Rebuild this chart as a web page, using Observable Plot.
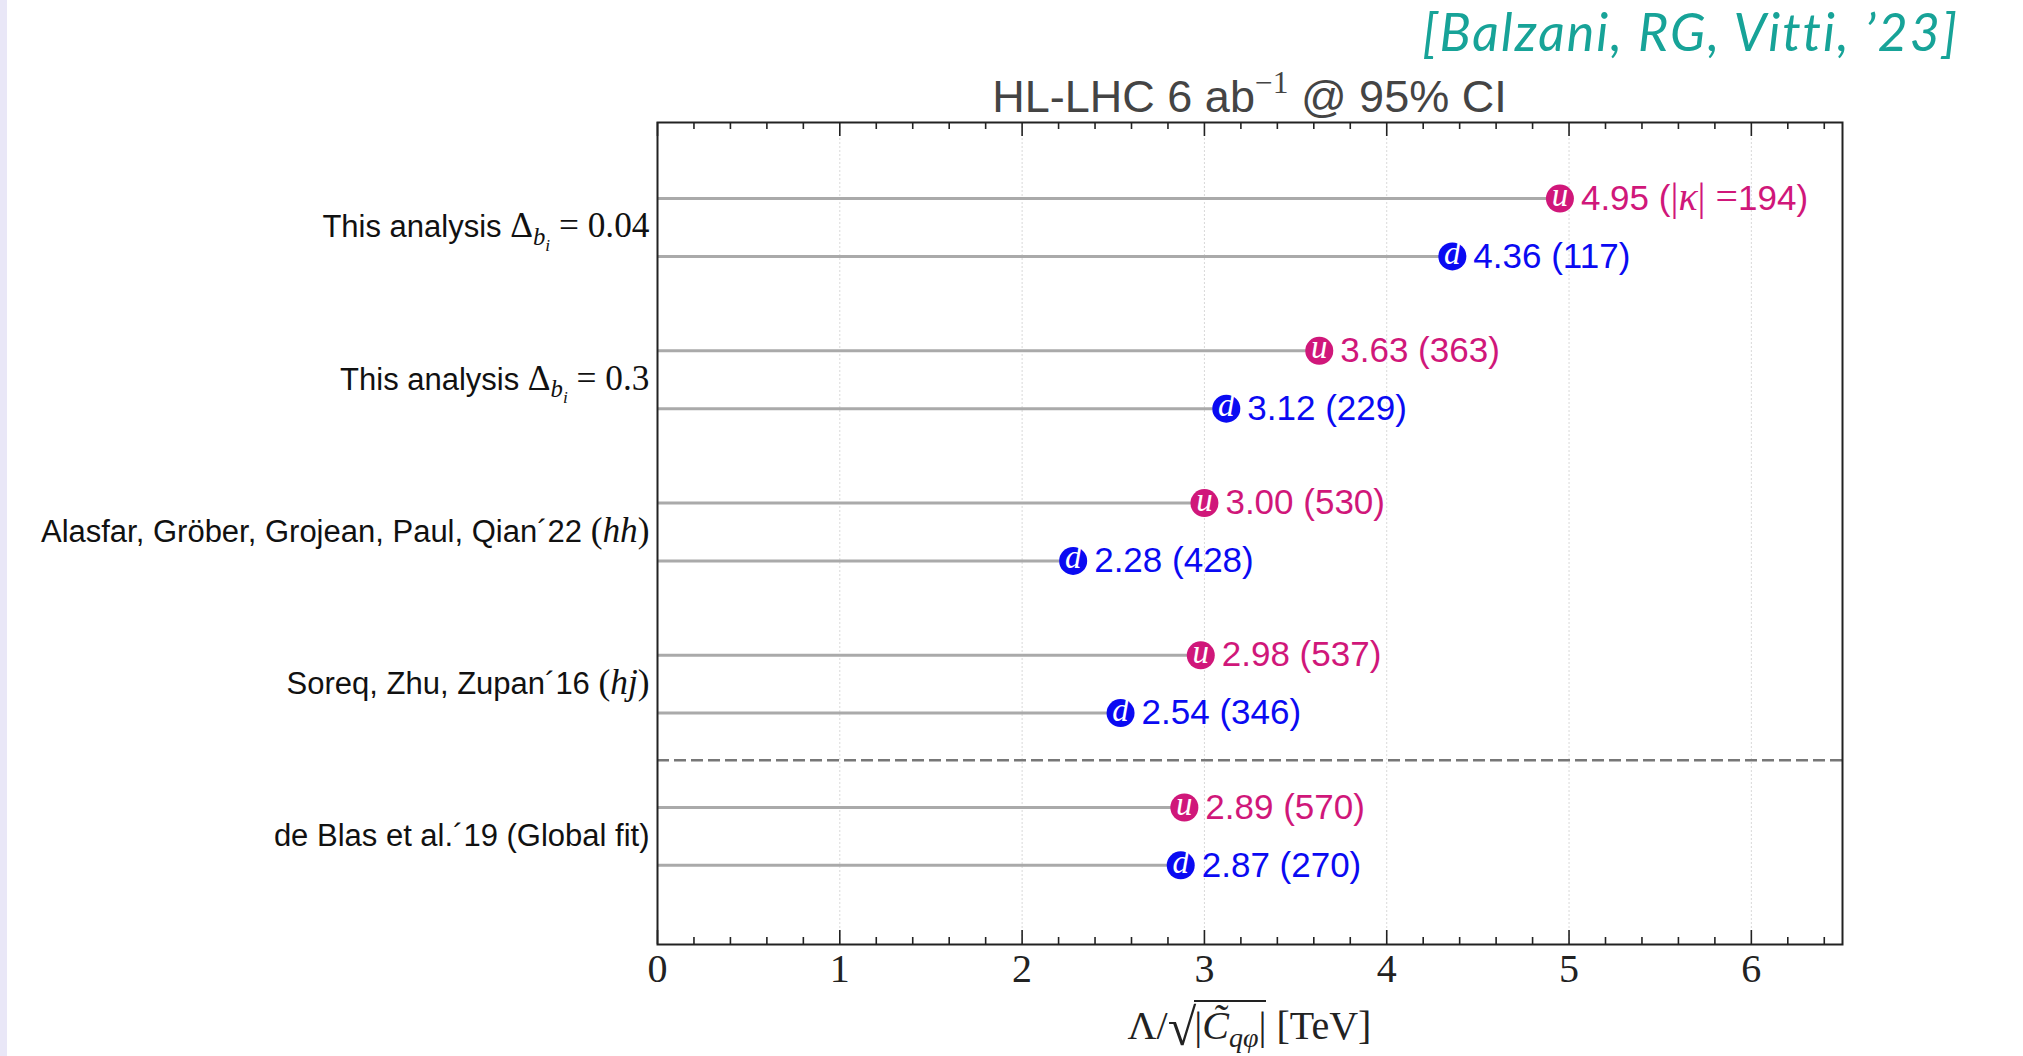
<!DOCTYPE html>
<html>
<head>
<meta charset="utf-8">
<script src="https://cdn.jsdelivr.net/npm/d3@7"></script>
<script src="https://cdn.jsdelivr.net/npm/@observablehq/plot@0.6"></script>
<style>
  html, body { margin: 0; padding: 0; background: #fff; overflow: hidden; }
  body { width: 2023px; height: 1056px; position: relative; font-family: "Liberation Sans", Arial, sans-serif; }
  #edge { position: absolute; left: 0; top: 0; width: 7px; height: 1056px; background: #e9e7f7; }
  #cite { position: absolute; top: 0px; right: 64px; color: #17a398; font-family: "Lato", sans-serif; font-style: italic; font-size: 52px; letter-spacing: 2px; }
  #title { position: absolute; left: 657px; width: 1185px; top: 74px; text-align: center; color: #444; font-size: 45px; line-height: 46px; }
  #title sup { font-family: "Liberation Serif", serif; font-size: 0.7em; vertical-align: 0.6em; line-height: 0; }
  #chart { position: absolute; left: 0; top: 120px; }
  #xlabel { position: absolute; left: 657px; width: 1185px; top: 1000px; text-align: center; font-family: "Liberation Serif", serif; font-size: 40px; line-height: 50px; color: #222; white-space: nowrap; }
  #xlabel .rad { font-size: 1.3em; vertical-align: -0.12em; line-height: 0; }
  #xlabel .root { display: inline-block; border-top: 2px solid #222; padding-top: 3px; line-height: 1.05; margin-left: -2px; }
  #xlabel sub { font-size: 0.7em; vertical-align: -0.3em; line-height: 0; }
</style>
</head>
<body>
<div id="edge"></div>
<div id="cite">[Balzani, RG, Vitti, ’23]</div>
<div id="title">HL-LHC 6 ab<sup>−1</sup> @ 95% CI</div>
<div id="chart"></div>
<div id="xlabel">Λ/<span class="rad">√</span><span class="root">|<i>C̃</i><sub><i>qφ</i></sub>|</span> [TeV]</div>
<script>
// Studies (top to bottom); "$...$" marks math, "_{...}" a subscript
const studies = [
  "This analysis $Δ_{b_i} = 0.04$",
  "This analysis $Δ_{b_i} = 0.3$",
  "Alasfar, Gröber, Grojean, Paul, Qian´22 $(hh)$",
  "Soreq, Zhu, Zupan´16 $(hj)$",
  "de Blas et al.´19 (Global fit)"
];
// Bounds on Λ/sqrt|C_qφ| in TeV and corresponding |κ|
const upBound = [4.95, 3.63, 3.00, 2.98, 2.89];
const upKappa = [194, 363, 530, 537, 570];
const downBound = [4.36, 3.12, 2.28, 2.54, 2.87];
const downKappa = [117, 229, 428, 346, 270];
const quarks = ["u", "d"];
const quarkColors = ["#d0177a", "#0a0af2"];
const xTicks = [0, 1, 2, 3, 4, 5, 6];

const rows = studies.flatMap((s, i) => [
  {study: i, quark: "u", offset: -0.19, value: upBound[i], kappa: upKappa[i]},
  {study: i, quark: "d", offset: 0.19, value: downBound[i], kappa: downKappa[i]}
]);
rows.forEach((r, j) => {
  r.label = j === 0
    ? `${r.value.toFixed(2)} ($|κ| =$${r.kappa})`
    : `${r.value.toFixed(2)} (${r.kappa})`;
});
const yOf = d => d.study + d.offset;

const W = 2023, H = 875, MT = 2, MB = 51, ML = 657, MR = 181;
const innerH = H - MT - MB;
const minorTicks = d3.range(1, 33).map(k => +(k * 0.2).toFixed(1)).filter(v => !Number.isInteger(v) && v < 6.5);

const tickStyle = {stroke: "#222", strokeWidth: 1.6};
const chart = Plot.plot({
  width: W, height: H,
  marginTop: MT, marginBottom: MB, marginLeft: ML, marginRight: MR,
  x: {domain: [0, 6.5]},
  y: {domain: [-0.69, 4.71], reverse: true, axis: null},
  color: {domain: quarks, range: quarkColors},
  style: {fontFamily: "Liberation Sans, Arial, sans-serif", fontSize: "31px", color: "#222", background: "transparent", overflow: "visible"},
  marks: [
    Plot.ruleX(xTicks.slice(1), {stroke: "#c8c8c8", strokeOpacity: 0.7, strokeDasharray: "2,2", strokeWidth: 1}),
    Plot.ruleY([3.5], {stroke: "#777", strokeWidth: 2.5, strokeDasharray: "12,5"}),
    Plot.ruleY(rows, {y: yOf, x1: () => 0, x2: "value", stroke: "#aaa", strokeWidth: 3}),
    Plot.dot(rows, {x: "value", y: yOf, r: 14, fill: "quark"}),
    Plot.text(rows, {x: "value", y: yOf, text: "quark", fill: "white", fontFamily: "Liberation Serif, serif", fontStyle: "italic", fontSize: 33, dy: -3}),
    Plot.text(rows, {x: "value", y: yOf, text: "label", fill: "quark", textAnchor: "start", dx: 21, fontSize: 35, ariaDescription: "bound-labels"}),
    Plot.text(studies, {frameAnchor: "left", y: (d, i) => i, text: d => d, textAnchor: "end", dx: -8, fontSize: 31, fill: "#111", ariaDescription: "study-labels"}),
    Plot.tickX(xTicks, {x: d => d, insetTop: innerH - 14, ...tickStyle}),
    Plot.tickX(xTicks, {x: d => d, insetBottom: innerH - 14, ...tickStyle}),
    Plot.tickX(minorTicks, {x: d => d, insetTop: innerH - 7, ...tickStyle}),
    Plot.tickX(minorTicks, {x: d => d, insetBottom: innerH - 7, ...tickStyle}),
    Plot.axisX(xTicks, {tickSize: 0, tickPadding: 9, fontSize: 40, fontFamily: "Liberation Serif, serif", tickFormat: d => String(d), label: null}),
    Plot.frame({stroke: "#222", strokeWidth: 2})
  ]
});
document.getElementById("chart").append(chart);

// Turn the small "$...$" / "_{...}" markup into tspans (serif math, italic letters, subscripts)
const MATH_SCALE = 1.14;
function parseMarkup(str) {
  const runs = [];
  let math = false;
  (function walk(s, scale, shift) {
    let i = 0;
    while (i < s.length) {
      const c = s[i];
      if (c === "$") { math = !math; i++; continue; }
      if (math && (c === "_" || c === "^")) {
        i++;
        let arg;
        if (s[i] === "{") {
          let depth = 1, j = i + 1;
          while (depth) { if (s[j] === "{") depth++; else if (s[j] === "}") depth--; j++; }
          arg = s.slice(i + 1, j - 1); i = j;
        } else { arg = s[i]; i++; }
        walk(arg, scale * 0.7, shift + (c === "_" ? 0.22 : -0.45) * scale);
        continue;
      }
      const italic = math && /[A-Za-zα-ω]/.test(c);
      const last = runs[runs.length - 1];
      if (last && last.math === math && last.italic === italic && last.scale === scale && last.shift === shift) last.text += c;
      else runs.push({text: c, math, italic, scale, shift});
      i++;
    }
  })(str, 1, 0);
  return runs;
}
function typeset(selector, base) {
  chart.querySelectorAll(selector).forEach(t => {
    const runs = parseMarkup(t.textContent);
    t.textContent = "";
    let shift = 0;
    for (const r of runs) {
      const ts = document.createElementNS("http://www.w3.org/2000/svg", "tspan");
      ts.textContent = r.text;
      ts.setAttribute("font-size", base * r.scale * (r.math ? MATH_SCALE : 1));
      const target = r.shift * base * MATH_SCALE;
      if (target !== shift) { ts.setAttribute("dy", target - shift); shift = target; }
      if (r.math) ts.setAttribute("font-family", "Liberation Serif, serif");
      if (r.italic) ts.setAttribute("font-style", "italic");
      t.append(ts);
    }
  });
}
typeset('g[aria-description="study-labels"] text', 31);
typeset('g[aria-description="bound-labels"] text', 35);
</script>
</body>
</html>
